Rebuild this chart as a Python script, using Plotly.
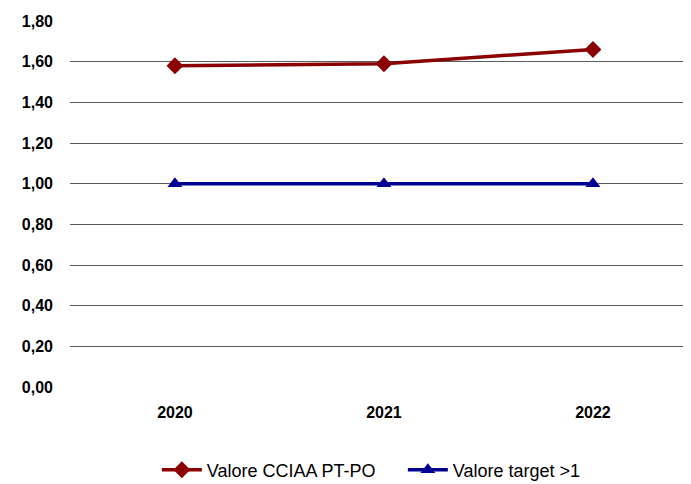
import plotly.graph_objects as go

years = ["2020", "2021", "2022"]
valore_cciaa = [1.58, 1.59, 1.66]
valore_target = [1.00, 1.00, 1.00]
y_ticks = [0.0, 0.2, 0.4, 0.6, 0.8, 1.0, 1.2, 1.4, 1.6, 1.8]
y_tick_labels = ["0,00", "0,20", "0,40", "0,60", "0,80", "1,00", "1,20", "1,40", "1,60", "1,80"]

FONT = "Liberation Sans, Arial, sans-serif"

fig = go.Figure()
fig.add_trace(go.Scatter(
    x=years, y=valore_cciaa, name="Valore CCIAA PT-PO", mode="lines+markers",
    line=dict(color="#8B0000", width=3.5),
    marker=dict(symbol="diamond", size=13, color="#8B0000"),
))
fig.add_trace(go.Scatter(
    x=years, y=valore_target, name="Valore target >1", mode="lines+markers",
    line=dict(color="#000090", width=3.5),
    marker=dict(symbol="triangle-up", size=13, color="#000090"),
))

fig.update_layout(
    width=683, height=476,
    margin=dict(l=62, r=0, t=13, b=97, autoexpand=False),
    paper_bgcolor="white", plot_bgcolor="white",
    font=dict(family=FONT, size=16, color="black"),
    showlegend=True,
    legend=dict(orientation="h", x=0.536, xanchor="center", y=-0.227, yanchor="middle",
                font=dict(size=18, family=FONT),
                itemwidth=40, entrywidth=191, traceorder="normal"),
    xaxis=dict(type="category", range=[-0.502, 2.469], showgrid=False, zeroline=False,
               showline=False, ticks="", ticklabelstandoff=14,
               tickfont=dict(size=16, family=FONT, weight="bold")),
    yaxis=dict(range=[0, 1.8], tickvals=y_ticks, ticktext=y_tick_labels,
               showgrid=True, gridcolor="#5a5a5a", gridwidth=1.2, zeroline=False,
               showline=False, ticks="", ticklabelstandoff=16,
               tickfont=dict(size=16, family=FONT, weight="bold")),
)

fig.write_html("out.html")
